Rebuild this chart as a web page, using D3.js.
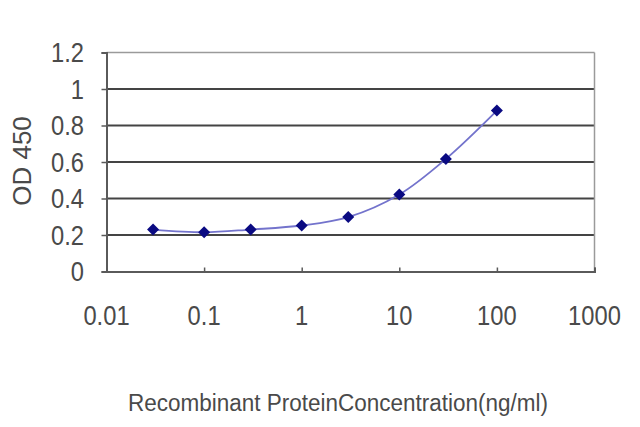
<!DOCTYPE html>
<html>
<head>
<meta charset="utf-8">
<script src="https://cdn.jsdelivr.net/npm/d3@7"></script>
<style>
  html, body { margin: 0; padding: 0; background: #fff; }
  svg { display: block; }
  text { font-family: "Liberation Sans", Arial, sans-serif; fill: #4a4a4a; }
</style>
</head>
<body>
<div id="chart"></div>
<script>
/* ---------- data ---------- */
const concentrations = [0.03, 0.1, 0.3, 1, 3, 10, 30, 100];
const odValues       = [0.230, 0.215, 0.230, 0.252, 0.298, 0.422, 0.617, 0.882];
const yTicks = [0, 0.2, 0.4, 0.6, 0.8, 1, 1.2];
const xTicks = [0.01, 0.1, 1, 10, 100, 1000];
const xTickLabels = ['0.01', '0.1', '1', '10', '100', '1000'];

const W = 640, H = 427;
const plot = { left: 106.5, right: 594.5, top: 52.5, bottom: 271.5 };

const svg = d3.select('#chart').append('svg')
  .attr('width', W).attr('height', H);

/* ---------- scales ---------- */
const x = d3.scaleLog().domain([0.01, 1000]).range([plot.left, plot.right]);
const y = d3.scaleLinear().domain([0, 1.2]).range([plot.bottom, plot.top]);

/* ---------- gridlines ---------- */
svg.append('g').selectAll('line')
  .data(yTicks.filter(d => d > 0)).enter()
  .append('line')
  .attr('x1', plot.left).attr('x2', plot.right)
  .attr('y1', d => y(d)).attr('y2', d => y(d))
  .attr('stroke', d => d === 1.2 ? '#9a9a9a' : '#444')
  .attr('stroke-width', d => d === 1.2 ? 1.5 : 2);

// right border
svg.append('line')
  .attr('x1', plot.right).attr('x2', plot.right)
  .attr('y1', plot.top).attr('y2', plot.bottom)
  .attr('stroke', '#9a9a9a').attr('stroke-width', 1.5);

/* ---------- axes ---------- */
const yAxis = svg.append('g')
  .attr('transform', `translate(${plot.left},0)`)
  .call(d3.axisLeft(y).tickValues(yTicks).tickSize(5).tickFormat(''));
const xAxis = svg.append('g')
  .attr('transform', `translate(0,${plot.bottom})`)
  .call(d3.axisBottom(x).tickValues(xTicks).tickSize(-4).tickFormat(''));
[yAxis, xAxis].forEach(g => {
  g.select('.domain').attr('stroke', '#5a5a5a').attr('stroke-width', 2);
  g.selectAll('.tick line').attr('stroke', '#5a5a5a').attr('stroke-width', 1.5);
});

// tick labels
svg.append('g').selectAll('text')
  .data(yTicks).enter()
  .append('text')
  .attr('transform', d => `translate(84,${y(d) + 9.5}) scale(0.95,1.08)`)
  .attr('text-anchor', 'end')
  .style('font-size', '25px')
  .text(d => d);

svg.append('g').selectAll('text')
  .data(xTicks).enter()
  .append('text')
  .attr('transform', d => `translate(${x(d)},325) scale(0.95,1.08)`)
  .attr('text-anchor', 'middle')
  .style('font-size', '25px')
  .text((d, i) => xTickLabels[i]);

/* ---------- axis titles ---------- */
svg.append('text')
  .attr('transform', 'translate(31,161) rotate(-90)')
  .attr('text-anchor', 'middle')
  .style('font-size', '26px')
  .text('OD 450');

svg.append('text')
  .attr('transform', 'translate(128,411) scale(1,1.3)')
  .attr('textLength', 420).attr('lengthAdjust', 'spacingAndGlyphs')
  .style('font-size', '19px')
  .text('Recombinant ProteinConcentration(ng/ml)');

/* ---------- series ---------- */
const pts = concentrations.map((c, i) => [x(c), y(odValues[i])]);

svg.append('path')
  .attr('d', d3.line().curve(d3.curveCatmullRom.alpha(0.5))(pts))
  .attr('fill', 'none')
  .attr('stroke', '#7373cc')
  .attr('stroke-width', 1.8);

svg.append('g').selectAll('path')
  .data(pts).enter()
  .append('path')
  .attr('transform', d => `translate(${d[0]},${d[1]}) rotate(45)`)
  .attr('d', d3.symbol(d3.symbolSquare, 72)())
  .attr('fill', '#0a0a82');
</script>
</body>
</html>
